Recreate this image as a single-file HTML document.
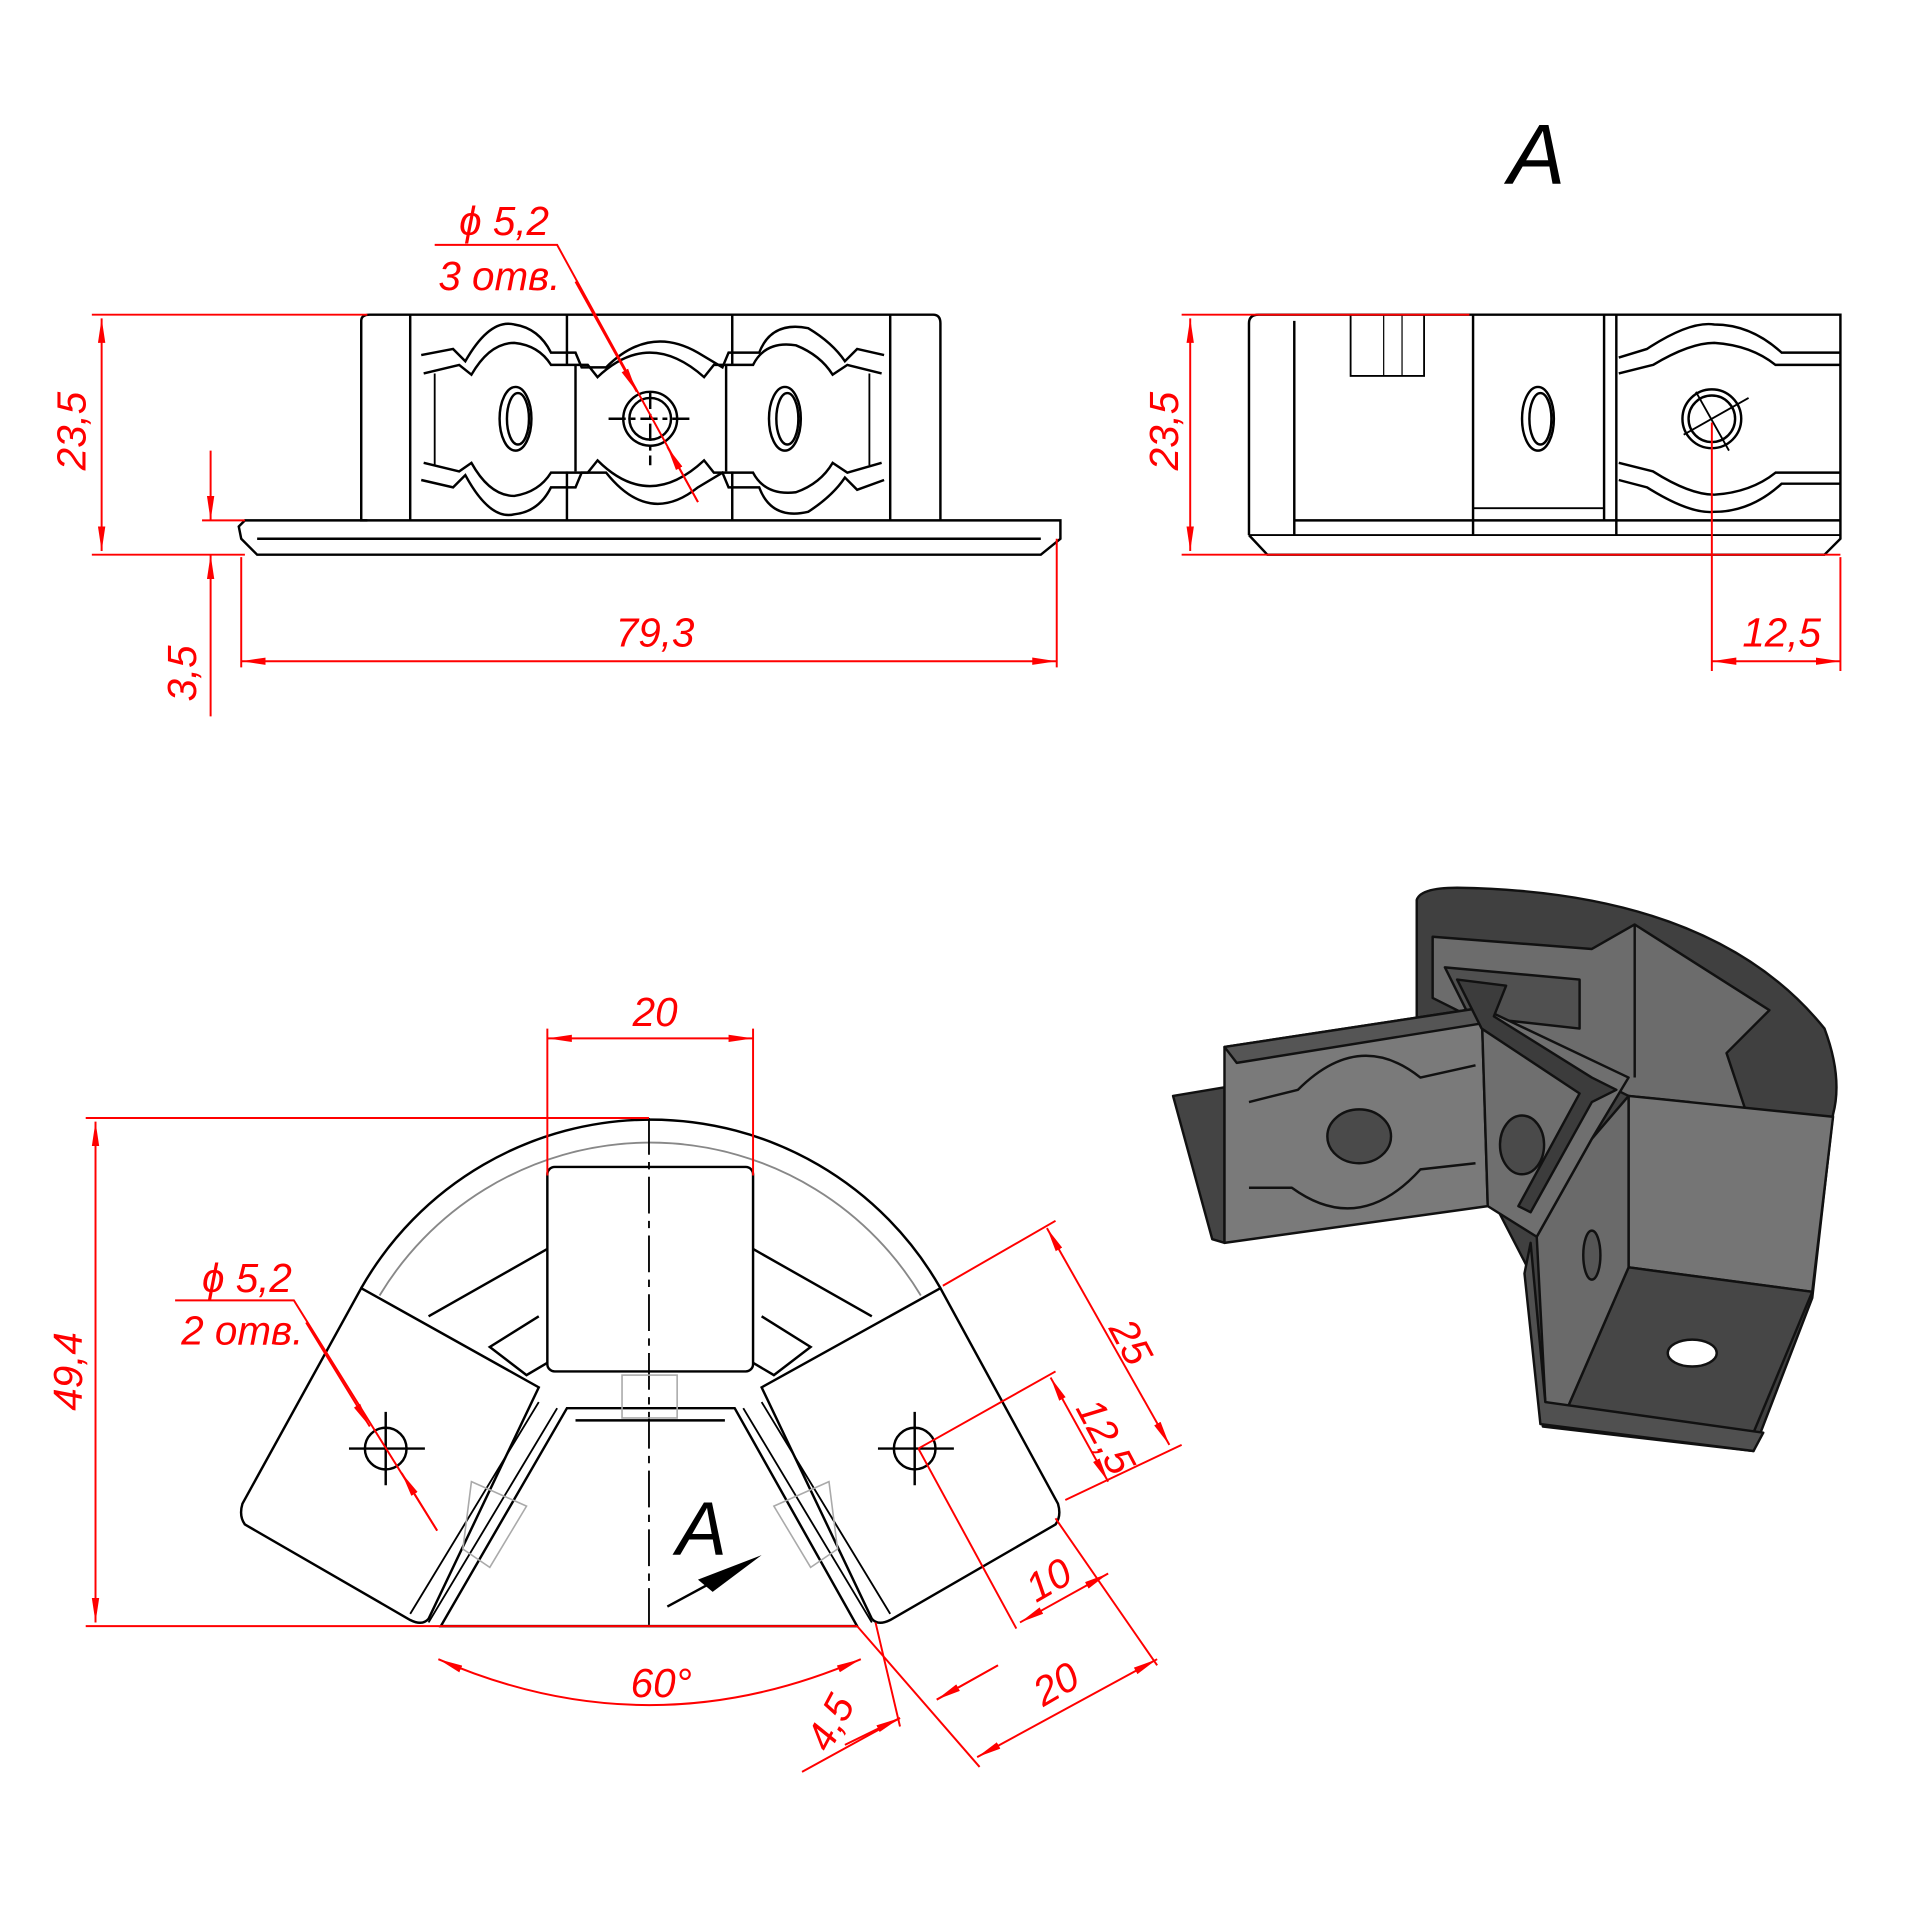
<!DOCTYPE html>
<html><head><meta charset="utf-8"><style>html,body{margin:0;padding:0;background:#fff}svg{display:block}</style></head>
<body>
<svg width="1920" height="1920" viewBox="0 0 1568 1568" xmlns="http://www.w3.org/2000/svg">
<defs>
<marker id="ar" viewBox="0 0 20 8" refX="20" refY="4" markerWidth="20" markerHeight="8" orient="auto-start-reverse" markerUnits="userSpaceOnUse"><path d="M0,1 L20,4 L0,7 Z" fill="#f00"/></marker>
</defs>
<rect width="1568" height="1568" fill="#fff"/>
<g fill="none" stroke="#000" stroke-width="2">
<!-- TOP LEFT VIEW -->
<path d="M300,425 L295,425 L295,262 Q295,257 302,257 L762,257 Q768,257 768,264 L768,425"/>
<line x1="335" y1="257" x2="335" y2="425"/><line x1="727" y1="257" x2="727" y2="425"/>
<line x1="463" y1="257" x2="463" y2="298"/><line x1="598" y1="257" x2="598" y2="298"/>
<line x1="470" y1="298" x2="470" y2="385"/><line x1="593" y1="298" x2="593" y2="385"/>
<line x1="463" y1="385" x2="463" y2="425"/><line x1="598" y1="385" x2="598" y2="425"/>
<path d="M195,430 L200,425 L866,425 L866,440 L850,453 L210,453 L197,440 Z"/>
<line x1="210" y1="440" x2="850" y2="440"/>
<path d="M344,290 L370,285 L380,295 Q400,260 420,265 Q440,268 450,288 L470,288 L475,300 L495,300 Q530,265 570,288 L590,300 L595,288 L620,288 Q630,262 660,268 Q680,280 690,295 L700,285 L722,290"/>
<path d="M346,305 L375,298 L385,306 Q400,280 420,280 Q440,282 450,298 L480,298 L488,308 Q530,268 575,308 L583,298 L615,298 Q625,278 650,282 Q670,290 680,306 L692,298 L720,305"/>
<path d="M344,392 L370,398 L380,388 Q400,425 420,420 Q440,418 450,398 L470,398 L475,386 L495,386 Q530,430 570,398 L590,386 L595,398 L620,398 Q630,425 660,418 Q680,405 690,390 L700,400 L722,392"/>
<path d="M346,378 L375,385 L385,378 Q400,405 420,405 Q440,402 450,386 L480,386 L488,376 Q530,418 575,376 L583,386 L615,386 Q625,405 650,402 Q670,395 680,378 L692,386 L720,378"/>
<line x1="355" y1="305" x2="355" y2="380" stroke-width="1.5"/><line x1="710" y1="305" x2="710" y2="380" stroke-width="1.5"/>
<ellipse cx="421" cy="342" rx="13" ry="26"/><ellipse cx="423" cy="342" rx="9" ry="21"/>
<ellipse cx="641" cy="342" rx="13" ry="26"/><ellipse cx="643" cy="342" rx="9" ry="21"/>
<circle cx="531" cy="342" r="22"/><circle cx="531" cy="342" r="17"/>
<path d="M497,342 H565 M531,320 V380" stroke-dasharray="14,4,4,4"/>

<!-- TOP RIGHT VIEW -->
<path d="M1020,437 L1020,264 Q1020,257 1028,257 L1503,257 L1503,440 L1490,453 L1035,453 L1020,437"/>
<line x1="1057" y1="262" x2="1057" y2="437"/>
<line x1="1020" y1="437" x2="1503" y2="437" stroke-width="1.5"/>
<line x1="1057" y1="425" x2="1503" y2="425"/>
<rect x="1103" y="257" width="60" height="50" stroke-width="1.5"/>
<line x1="1130" y1="257" x2="1130" y2="307" stroke-width="1"/><line x1="1145" y1="257" x2="1145" y2="307" stroke-width="1"/>
<line x1="1203" y1="257" x2="1203" y2="437"/><line x1="1310" y1="257" x2="1310" y2="425"/>
<line x1="1320" y1="257" x2="1320" y2="437"/>
<line x1="1203" y1="415" x2="1310" y2="415" stroke-width="1.5"/>
<ellipse cx="1256" cy="342" rx="13" ry="26"/><ellipse cx="1258" cy="342" rx="9" ry="21"/>
<circle cx="1398" cy="342" r="24"/><circle cx="1398" cy="342" r="19"/>
<path d="M1375,355 L1428,325 M1385,320 L1412,368" stroke-width="1.5"/>
<path d="M1322,292 L1345,285 Q1380,262 1400,265 Q1430,265 1455,288 L1503,288"/>
<path d="M1322,305 L1350,298 Q1380,280 1400,280 Q1430,282 1450,298 L1503,298"/>
<path d="M1322,392 L1345,398 Q1380,420 1400,418 Q1430,418 1455,395 L1503,395"/>
<path d="M1322,378 L1350,385 Q1380,404 1400,404 Q1430,402 1450,386 L1503,386"/>

<!-- BOTTOM LEFT VIEW -->
<path d="M295,1052 A272,272 0 0 1 768,1052" />
<path d="M310,1058 A258,258 0 0 1 752,1058" stroke="#888" stroke-width="1.5"/>
<path d="M295,1052 L440,1133 L350,1322 Q345,1328 335,1323 L200,1245 Q195,1238 198,1228 Z"/>
<path d="M768,1052 L622,1133 L712,1322 Q717,1328 727,1323 L862,1245 Q867,1238 864,1228 Z"/>
<rect x="447" y="953" width="168" height="167" rx="6"/>
<path d="M447,1020 L350,1075 M615,1020 L712,1075"/>
<path d="M440,1075 L400,1100 L430,1123 L447,1113 M622,1075 L662,1100 L632,1123 L615,1113"/>
<path d="M463,1150 L600,1150 L700,1328 L360,1328 Z M470,1160 L592,1160"/>
<path d="M440,1145 L335,1318 M455,1150 L350,1325 M622,1145 L727,1318 M607,1150 L712,1325" stroke-width="1.5"/>
<path d="M530,913 V1328" stroke-dasharray="30,6,6,6" stroke-width="1.5"/>
<g stroke="#aaa" stroke-width="1.3"><rect x="508" y="1123" width="45" height="35"/><path d="M385,1210 L430,1230 L400,1280 L378,1265 Z M677,1210 L632,1230 L662,1280 L684,1265 Z"/></g>
<circle cx="315" cy="1183" r="17"/><path d="M285,1183 H347 M315,1153 V1213"/>
<circle cx="747" cy="1183" r="17"/><path d="M717,1183 H779 M747,1153 V1213"/>
</g>

<!-- RED DIMENSIONS -->
<g stroke="#f00" stroke-width="1.6" fill="none">
<path d="M75,257 H300 M75,453 H200 M165,425 H200"/>
<line x1="83" y1="260" x2="83" y2="450" marker-start="url(#ar)" marker-end="url(#ar)"/>
<line x1="172" y1="368" x2="172" y2="425" marker-end="url(#ar)"/>
<line x1="172" y1="585" x2="172" y2="453" marker-end="url(#ar)"/>
<path d="M197,455 V545 M863,440 V545"/>
<line x1="197" y1="540" x2="863" y2="540" marker-start="url(#ar)" marker-end="url(#ar)"/>
<path d="M355,200 H455 L570,410"/>
<line x1="470" y1="230" x2="520" y2="320" marker-end="url(#ar)"/>
<line x1="570" y1="410" x2="545" y2="365" marker-end="url(#ar)"/>
<path d="M965,257 H1200 M965,453 H1503"/>
<line x1="972" y1="260" x2="972" y2="450" marker-start="url(#ar)" marker-end="url(#ar)"/>
<path d="M1398,345 V548 M1503,455 V548"/>
<line x1="1398" y1="540" x2="1503" y2="540" marker-start="url(#ar)" marker-end="url(#ar)"/>
<path d="M70,913 H530 M70,1328 H700"/>
<line x1="78" y1="916" x2="78" y2="1325" marker-start="url(#ar)" marker-end="url(#ar)"/>
<path d="M447,840 V960 M615,840 V960"/>
<line x1="447" y1="848" x2="615" y2="848" marker-start="url(#ar)" marker-end="url(#ar)"/>
<path d="M143,1062 H240 L357,1250"/>
<line x1="250" y1="1080" x2="302" y2="1165" marker-end="url(#ar)"/>
<line x1="357" y1="1250" x2="328" y2="1203" marker-end="url(#ar)"/>
<path d="M358,1355 Q530,1430 703,1355" marker-start="url(#ar)" marker-end="url(#ar)"/>
<path d="M770,1050 L862,997 M870,1225 L965,1180 M750,1183 L862,1120"/>
<line x1="855" y1="1003" x2="955" y2="1180" marker-start="url(#ar)" marker-end="url(#ar)"/>
<line x1="858" y1="1125" x2="905" y2="1210" marker-start="url(#ar)" marker-end="url(#ar)"/>
<path d="M750,1183 L830,1330 M862,1240 L945,1360 M700,1328 L800,1443 M715,1325 L735,1410"/>
<line x1="833" y1="1325" x2="905" y2="1285" marker-start="url(#ar)" marker-end="url(#ar)"/>
<line x1="798" y1="1435" x2="945" y2="1355" marker-start="url(#ar)" marker-end="url(#ar)"/>
<path d="M655,1447 L735,1403 M765,1388 L815,1360"/>
<line x1="690" y1="1425" x2="735" y2="1403" marker-end="url(#ar)"/>
<line x1="815" y1="1360" x2="765" y2="1388" marker-end="url(#ar)"/>
</g>
<g fill="#f00" font-family="Liberation Sans, sans-serif" font-style="italic" font-size="33">
<text x="70" y="352" transform="rotate(-90 70 352)" text-anchor="middle">23,5</text>
<text x="160" y="550" transform="rotate(-90 160 550)" text-anchor="middle">3,5</text>
<text x="535" y="528" text-anchor="middle">79,3</text>
<text x="375" y="192">ϕ 5,2</text>
<text x="358" y="237">3 отв.</text>
<text x="962" y="352" transform="rotate(-90 962 352)" text-anchor="middle">23,5</text>
<text x="1455" y="528" text-anchor="middle">12,5</text>
<text x="67" y="1120" transform="rotate(-90 67 1120)" text-anchor="middle">49,4</text>
<text x="535" y="838" text-anchor="middle">20</text>
<text x="165" y="1055">ϕ 5,2</text>
<text x="148" y="1098">2 отв.</text>
<text x="540" y="1386" text-anchor="middle">60°</text>
<text x="905" y="1085" transform="rotate(62 905 1085)">25</text>
<text x="878" y="1150" transform="rotate(62 878 1150)">12,5</text>
<text x="862" y="1300" transform="rotate(-30 862 1300)" text-anchor="middle">10</text>
<text x="868" y="1385" transform="rotate(-30 868 1385)" text-anchor="middle">20</text>
<text x="688" y="1412" transform="rotate(-62 688 1412)" text-anchor="middle">4,5</text>
</g>
<g fill="#000" font-family="Liberation Sans, sans-serif" font-style="italic">
<text x="1255" y="150" font-size="70" text-anchor="middle">A</text>
<text x="573" y="1270" font-size="62" text-anchor="middle">A</text>
</g>
<path d="M545,1312 L595,1285" stroke="#000" stroke-width="2"/>
<path d="M622,1270 L570,1290 L582,1300 Z" fill="#000"/>

<!-- 3D RENDER -->
<g stroke="#111" stroke-width="2" stroke-linejoin="round">
<path d="M1157,735 Q1160,725 1190,725 Q1400,728 1490,840 Q1505,880 1497,910 L1480,1060 L1432,1185 L1260,1165 L1250,1040 L1157,860 Z" fill="#404040"/>
<path d="M1170,765 L1300,775 L1335,755 L1445,825 L1410,860 L1440,950 L1370,945 L1380,900 L1330,895 L1260,860 L1170,815 Z" fill="#6c6c6c"/>
<path d="M1335,755 L1335,880" fill="none"/>
<path d="M1180,790 L1290,800 L1290,840 L1200,830 Z" fill="#505050"/>
<path d="M1330,895 L1497,912 L1480,1055 L1330,1035 Z" fill="#757575"/>
<path d="M1330,1035 L1480,1055 L1432,1170 L1280,1150 Z" fill="#464646"/>
<path d="M1330,895 L1330,1035 L1280,1150 L1262,1145 L1255,1010 L1300,930 Z" fill="#6a6a6a"/>
<path d="M1250,1015 L1262,1145 L1440,1170 L1432,1185 L1258,1163 L1245,1040 Z" fill="#505050"/>
<path d="M958,895 L1000,888 L1000,1015 L990,1012 Z" fill="#444"/>
<path d="M1000,855 L1210,823 L1215,985 L1000,1015 Z" fill="#7a7a7a"/>
<path d="M1000,855 L1210,823 L1215,835 L1010,868 Z" fill="#555"/>
<path d="M1210,823 L1330,880 L1300,930 L1255,1010 L1215,985 Z" fill="#6f6f6f"/>
<path d="M1190,800 L1230,805 L1220,830 L1300,880 L1320,890 L1300,900 L1250,990 L1240,985 L1290,893 L1210,840 Z" fill="#3c3c3c"/>
<path d="M1020,900 L1060,890 Q1110,840 1160,880 L1205,870 M1020,970 L1055,970 Q1110,1010 1160,955 L1205,950" fill="none"/>
<ellipse cx="1110" cy="928" rx="26" ry="22" fill="#4a4a4a"/>
<ellipse cx="1243" cy="935" rx="18" ry="24" fill="#4a4a4a"/>
<ellipse cx="1300" cy="1025" rx="7" ry="20" fill="#555"/>
<ellipse cx="1382" cy="1105" rx="20" ry="11" fill="#fff"/>
</g>
</svg>
</body></html>
